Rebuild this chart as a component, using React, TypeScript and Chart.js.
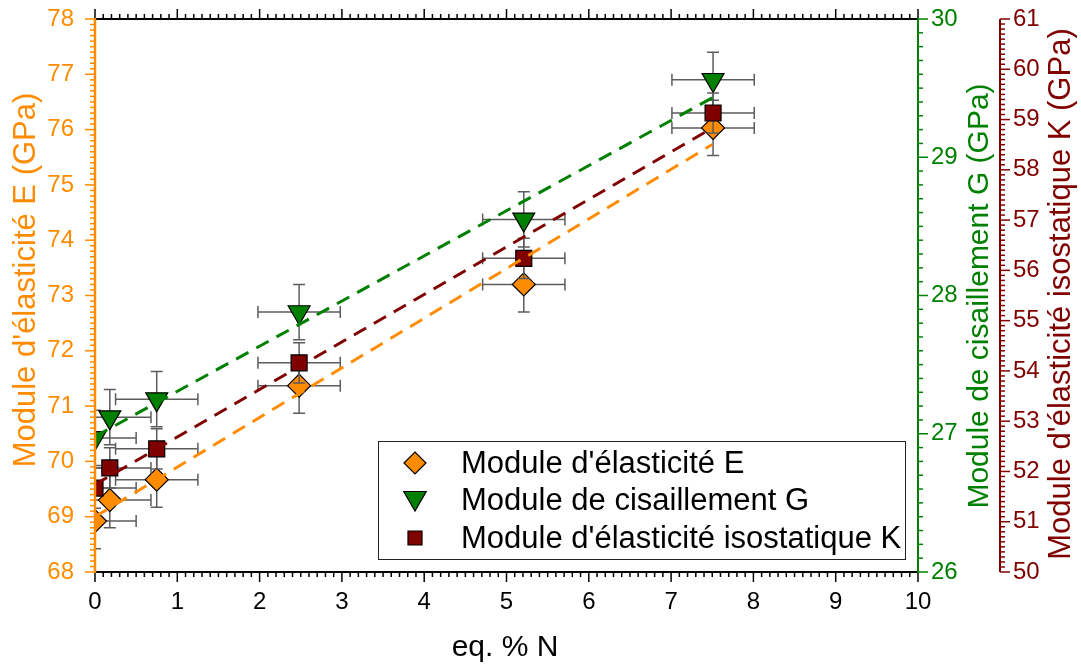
import React, { useEffect, useRef } from 'react';
import { Chart, registerables } from 'chart.js';

Chart.register(...registerables);

// ---- data ----
const xValues = [0, 0.18, 0.75, 2.48, 5.21, 7.51];
const eValues = [68.92, 69.3, 69.67, 71.37, 73.2, 76.03];
const gValues = [26.97, 27.12, 27.25, 27.88, 28.55, 29.56];
const kValues = [51.67, 52.07, 52.45, 54.16, 56.24, 59.13];
const xErr = [0.5, 0.5, 0.5, 0.5, 0.5, 0.5];
const eErr = [0.5, 0.5, 0.5, 0.5, 0.5, 0.5];
const gErr = [0.2, 0.2, 0.2, 0.2, 0.2, 0.2];
const kErr = [0.4, 0.4, 0.4, 0.4, 0.4, 0.4];
const fitX = [0, 7.5];
const fitE = [69.0, 75.73];
const fitG = [26.98, 29.43];
const fitK = [51.74, 58.83];

const xRange = [0, 10];
const eRange = [68, 78];
const gRange = [26, 30];
const kRange = [50, 61];

const xTitle = 'eq. % N';
const eTitle = "Module d'élasticité E (GPa)";
const gTitle = 'Module de cisaillement G (GPa)';
const kTitle = "Module d'élasticité isostatique K (GPa)";
const legendLabels = [
  "Module d'élasticité E",
  'Module de cisaillement G',
  "Module d'élasticité isostatique K",
];

const ORANGE = '#FF8C00';
const GREEN = '#008000';
const DARKRED = '#800000';
const ERRCOL = '#5c5c5c';
const FONT = '"Liberation Sans", Arial, sans-serif';

const errMap: Record<string, { ex: number[]; ey: number[] }> = {
  E: { ex: xErr, ey: eErr },
  G: { ex: xErr, ey: gErr },
  K: { ex: xErr, ey: kErr },
};

function drawMarker(ctx: CanvasRenderingContext2D, style: string, x: number, y: number, r: number, fill: string) {
  ctx.beginPath();
  if (style === 'diamond') {
    ctx.moveTo(x - r, y);
    ctx.lineTo(x, y - r);
    ctx.lineTo(x + r, y);
    ctx.lineTo(x, y + r);
  } else if (style === 'tri') {
    const w = r * Math.sqrt(3) / 2;
    ctx.moveTo(x - w, y - r / 2);
    ctx.lineTo(x + w, y - r / 2);
    ctx.lineTo(x, y + r);
  } else {
    ctx.rect(x - r, y - r, 2 * r, 2 * r);
  }
  ctx.closePath();
  ctx.fillStyle = fill;
  ctx.fill();
  ctx.strokeStyle = '#000';
  ctx.lineWidth = 1.2;
  ctx.stroke();
}

function drawScaleTicks(
  ctx: CanvasRenderingContext2D,
  scale: any,
  min: number,
  max: number,
  vertical: boolean,
  axisPos: number,
  dir: number,
  color: string,
) {
  const n = Math.round((max - min) * 10);
  ctx.strokeStyle = color;
  ctx.lineWidth = 1.5;
  for (let i = 0; i <= n; i++) {
    const v = min + i / 10;
    const p = scale.getPixelForValue(v);
    const len = i % 10 === 0 ? 10 : 5;
    ctx.beginPath();
    if (vertical) {
      ctx.moveTo(axisPos, p);
      ctx.lineTo(axisPos + dir * len, p);
    } else {
      ctx.moveTo(p, axisPos);
      ctx.lineTo(p, axisPos + dir * len);
    }
    ctx.stroke();
  }
}

const customPlugin = {
  id: 'customDecor',
  beforeDatasetDraw(chart: any, args: any) {
    const ds = chart.data.datasets[args.index];
    const err = errMap[ds.label];
    if (!err) return;
    const ctx = chart.ctx as CanvasRenderingContext2D;
    const ca = chart.chartArea;
    const xs = chart.scales.x;
    const ys = chart.scales[ds.yAxisID];
    ctx.save();
    ctx.beginPath();
    ctx.rect(ca.left, ca.top, ca.right - ca.left, ca.bottom - ca.top);
    ctx.clip();
    ctx.strokeStyle = ERRCOL;
    ctx.lineWidth = 1.5;
    const cap = 6;
    ds.data.forEach((p: any, i: number) => {
      const px = xs.getPixelForValue(p.x);
      const py = ys.getPixelForValue(p.y);
      const xl = xs.getPixelForValue(p.x - err.ex[i]);
      const xr = xs.getPixelForValue(p.x + err.ex[i]);
      const yt = ys.getPixelForValue(p.y + err.ey[i]);
      const yb = ys.getPixelForValue(p.y - err.ey[i]);
      ctx.beginPath();
      ctx.moveTo(xl, py); ctx.lineTo(xr, py);
      ctx.moveTo(xl, py - cap); ctx.lineTo(xl, py + cap);
      ctx.moveTo(xr, py - cap); ctx.lineTo(xr, py + cap);
      ctx.moveTo(px, yt); ctx.lineTo(px, yb);
      ctx.moveTo(px - cap, yt); ctx.lineTo(px + cap, yt);
      ctx.moveTo(px - cap, yb); ctx.lineTo(px + cap, yb);
      ctx.stroke();
    });
    ctx.restore();
  },
  afterDraw(chart: any) {
    const ctx = chart.ctx as CanvasRenderingContext2D;
    const ca = chart.chartArea;
    const { x, yE, yG, yK } = chart.scales;
    ctx.save();
    ctx.lineCap = 'butt';
    // ticks
    drawScaleTicks(ctx, x, xRange[0], xRange[1], false, ca.bottom, 1, '#000');
    drawScaleTicks(ctx, x, xRange[0], xRange[1], false, ca.top, -1, '#000');
    drawScaleTicks(ctx, yE, eRange[0], eRange[1], true, ca.left, -1, ORANGE);
    drawScaleTicks(ctx, yG, gRange[0], gRange[1], true, ca.right, 1, GREEN);
    drawScaleTicks(ctx, yK, kRange[0], kRange[1], true, yK.left, 1, DARKRED);
    // axis lines
    ctx.lineWidth = 2;
    ctx.strokeStyle = '#000';
    ctx.beginPath();
    ctx.moveTo(ca.left, ca.bottom); ctx.lineTo(ca.right, ca.bottom);
    ctx.moveTo(ca.left, ca.top); ctx.lineTo(ca.right, ca.top);
    ctx.stroke();
    ctx.lineWidth = 2.5;
    ctx.strokeStyle = ORANGE;
    ctx.beginPath();
    ctx.moveTo(ca.left, ca.top - 1); ctx.lineTo(ca.left, ca.bottom + 1);
    ctx.stroke();
    ctx.lineWidth = 2;
    ctx.strokeStyle = GREEN;
    ctx.beginPath();
    ctx.moveTo(ca.right, ca.top - 1); ctx.lineTo(ca.right, ca.bottom + 1);
    ctx.stroke();
    ctx.strokeStyle = DARKRED;
    ctx.beginPath();
    ctx.moveTo(yK.left, ca.top); ctx.lineTo(yK.left, ca.bottom);
    ctx.stroke();

    // titles
    ctx.textAlign = 'center';
    ctx.textBaseline = 'middle';
    ctx.fillStyle = '#000';
    ctx.font = `30px ${FONT}`;
    ctx.fillText(xTitle, 505, 648);
    const vTitle = (t: string, cx: number, cy: number, col: string, size: number) => {
      ctx.save();
      ctx.translate(cx, cy);
      ctx.rotate(-Math.PI / 2);
      ctx.font = `${size}px ${FONT}`;
      ctx.fillStyle = col;
      ctx.fillText(t, 0, 0);
      ctx.restore();
    };
    vTitle(eTitle, 26, 280, ORANGE, 31);
    vTitle(gTitle, 980, 296, GREEN, 30);
    vTitle(kTitle, 1061, 294, DARKRED, 31);

    // legend
    const lx = 378, ly = 441, lw = 527, lh = 118;
    ctx.fillStyle = '#fff';
    ctx.fillRect(lx, ly, lw, lh);
    ctx.strokeStyle = '#222';
    ctx.lineWidth = 1;
    ctx.strokeRect(lx + 0.5, ly + 0.5, lw, lh);
    const rows = [463, 500, 538];
    drawMarker(ctx, 'diamond', 415, rows[0], 11, ORANGE);
    drawMarker(ctx, 'tri', 415, rows[1] - 2, 13, GREEN);
    drawMarker(ctx, 'square', 415, rows[2], 7, DARKRED);
    ctx.font = `31px ${FONT}`;
    ctx.textAlign = 'left';
    ctx.fillStyle = '#000';
    legendLabels.forEach((t, i) => ctx.fillText(t, 461, rows[i] + 1));
    ctx.restore();
  },
};

export default function App() {
  const canvasRef = useRef<HTMLCanvasElement | null>(null);

  useEffect(() => {
    if (!canvasRef.current) return;
    const pts = (ys: number[]) => xValues.map((xv, i) => ({ x: xv, y: ys[i] }));
    const fit = (ys: number[]) => fitX.map((xv, i) => ({ x: xv, y: ys[i] }));
    const tickFont = { family: FONT, size: 24 };
    const hidden = { display: false, drawTicks: false, tickLength: 0 };
    const fitY = (s: any, w: number) => {
      s.width = w;
      s.paddingTop = 0;
      s.paddingBottom = 0;
    };
    const lineStyle = { borderWidth: 3, borderDash: [14, 9], pointRadius: 0, fill: false, order: 0 };
    const chart = new Chart(canvasRef.current, {
      type: 'scatter',
      data: {
        datasets: [
          { type: 'line', label: 'fitE', data: fit(fitE), yAxisID: 'yE', borderColor: ORANGE, ...lineStyle } as any,
          { type: 'line', label: 'fitG', data: fit(fitG), yAxisID: 'yG', borderColor: GREEN, ...lineStyle } as any,
          { type: 'line', label: 'fitK', data: fit(fitK), yAxisID: 'yK', borderColor: DARKRED, ...lineStyle } as any,
          { type: 'scatter', label: 'E', data: pts(eValues), yAxisID: 'yE', pointStyle: 'rectRot', pointRadius: 11.5, pointHoverRadius: 11.5, backgroundColor: ORANGE, borderColor: '#000', borderWidth: 1.2, order: 3 } as any,
          { type: 'scatter', label: 'G', data: pts(gValues), yAxisID: 'yG', pointStyle: 'triangle', pointRotation: 180, pointRadius: 12.7, pointHoverRadius: 12.7, backgroundColor: GREEN, borderColor: '#000', borderWidth: 1.2, order: 2 } as any,
          { type: 'scatter', label: 'K', data: pts(kValues), yAxisID: 'yK', pointStyle: 'rect', pointRadius: 11.3, pointHoverRadius: 11.3, backgroundColor: DARKRED, borderColor: '#000', borderWidth: 1.2, order: 1 } as any,
        ],
      },
      options: {
        animation: false,
        responsive: false,
        events: [],
        layout: { padding: { top: 19, left: 0, right: 0, bottom: 0 } },
        plugins: { legend: { display: false }, tooltip: { enabled: false } },
        scales: {
          x: {
            type: 'linear', position: 'bottom', min: xRange[0], max: xRange[1],
            ticks: { stepSize: 1, font: tickFont, color: '#000', padding: 16, maxRotation: 0, autoSkip: false },
            grid: hidden, border: { display: false },
            afterFit: (s: any) => { s.height = 96; s.paddingLeft = 0; s.paddingRight = 0; },
          },
          yE: {
            type: 'linear', position: 'left', min: eRange[0], max: eRange[1],
            ticks: { stepSize: 1, font: tickFont, color: ORANGE, padding: 21 },
            grid: hidden, border: { display: false },
            afterFit: (s: any) => fitY(s, 95),
          },
          yG: {
            type: 'linear', position: 'right', weight: 0, min: gRange[0], max: gRange[1],
            ticks: { stepSize: 1, font: tickFont, color: GREEN, padding: 13 },
            grid: hidden, border: { display: false },
            afterFit: (s: any) => fitY(s, 82),
          },
          yK: {
            type: 'linear', position: 'right', weight: 1, min: kRange[0], max: kRange[1],
            ticks: { stepSize: 1, font: tickFont, color: DARKRED, padding: 13 },
            grid: hidden, border: { display: false },
            afterFit: (s: any) => fitY(s, 81),
          },
        },
      } as any,
      plugins: [customPlugin],
    });
    return () => chart.destroy();
  }, []);

  return (
    <div style={{ position: 'absolute', left: 0, top: 0, width: 1081, height: 668, background: '#fff' }}>
      <canvas ref={canvasRef} width={1081} height={668} style={{ display: 'block' }} />
    </div>
  );
}
